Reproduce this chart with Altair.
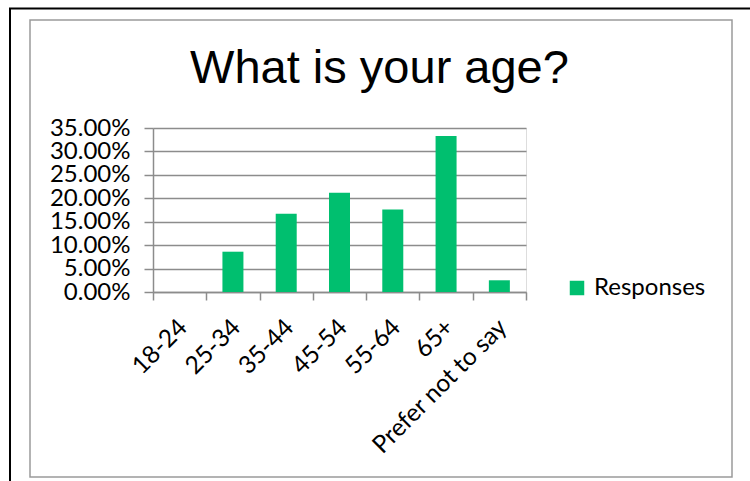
import altair as alt
import pandas as pd

categories = ["18-24", "25-34", "35-44", "45-54", "55-64", "65+", "Prefer not to say"]
values = [0.0, 0.086, 0.167, 0.212, 0.176, 0.333, 0.025]
series = "Responses"
y_ticks = [0, 0.05, 0.10, 0.15, 0.20, 0.25, 0.30, 0.35]

df = pd.DataFrame({"age": categories, "share": values, "series": series})

GRID = "#8c8c8c"
GREEN = "#00BF6F"
FONT = "Lato"

bars = alt.Chart(df).mark_bar(color=GREEN, size=21).encode(
    x=alt.X("age:N", sort=categories,
            scale=alt.Scale(paddingInner=0, paddingOuter=0),
            axis=alt.Axis(title=None, labelAngle=-45, labelFontSize=24.5, labelFont=FONT,
                          labelColor="black", tickBand="extent", tickSize=8,
                          tickColor=GRID, tickWidth=1.5, domainColor=GRID, domainWidth=1.5,
                          labelPadding=15, labelOffset=-5, grid=False, labelOverlap=False)),
    y=alt.Y("share:Q", scale=alt.Scale(domain=[0, 0.35], nice=False),
            axis=alt.Axis(title=None, format=".2%", values=y_ticks, labelFontSize=24,
                          labelFont=FONT, labelColor="black", tickSize=9, tickColor=GRID,
                          tickWidth=1.5, domainColor=GRID, domainWidth=1.5, labelPadding=14,
                          grid=True, gridColor=GRID, gridWidth=1.5, labelOverlap=False)),
    color=alt.Color("series:N", scale=alt.Scale(range=[GREEN]),
                    legend=alt.Legend(title=None, orient="none", legendX=412, legendY=148,
                                      symbolType="square", symbolSize=210,
                                      symbolStrokeWidth=0, labelFontSize=24, labelFont=FONT,
                                      labelColor="black", labelOffset=5)),
)

frame = alt.Chart(alt.Data(values=[{"k": 1}])).mark_rect(
    fill=None, stroke="#9a9a9a", strokeWidth=1.5
).encode(x=alt.value(30 - 153), x2=alt.value(732 - 153),
         y=alt.value(20 - 128), y2=alt.value(477 - 128))

outer = alt.Chart(alt.Data(values=[{"k": 1}])).mark_rect(
    fill=None, stroke="black", strokeWidth=2
).encode(x=alt.value(10 - 153), x2=alt.value(800 - 153),
         y=alt.value(8.5 - 128), y2=alt.value(600 - 128))

chart = alt.layer(outer, frame, bars).properties(
    width=373, height=164,
    title=alt.Title("What is your age?", font="Liberation Sans", fontSize=47,
                    fontWeight="normal", color="black", anchor="middle", frame="group",
                    baseline="alphabetic", offset=-122, dx=40),
    autosize=alt.AutoSizeParams(type="none"),
    padding={"left": 153, "top": 128, "right": 224, "bottom": 189},
).configure_view(stroke=None).configure(background="white")

chart.save("out.html", embed_options={"renderer": "svg", "actions": False})
